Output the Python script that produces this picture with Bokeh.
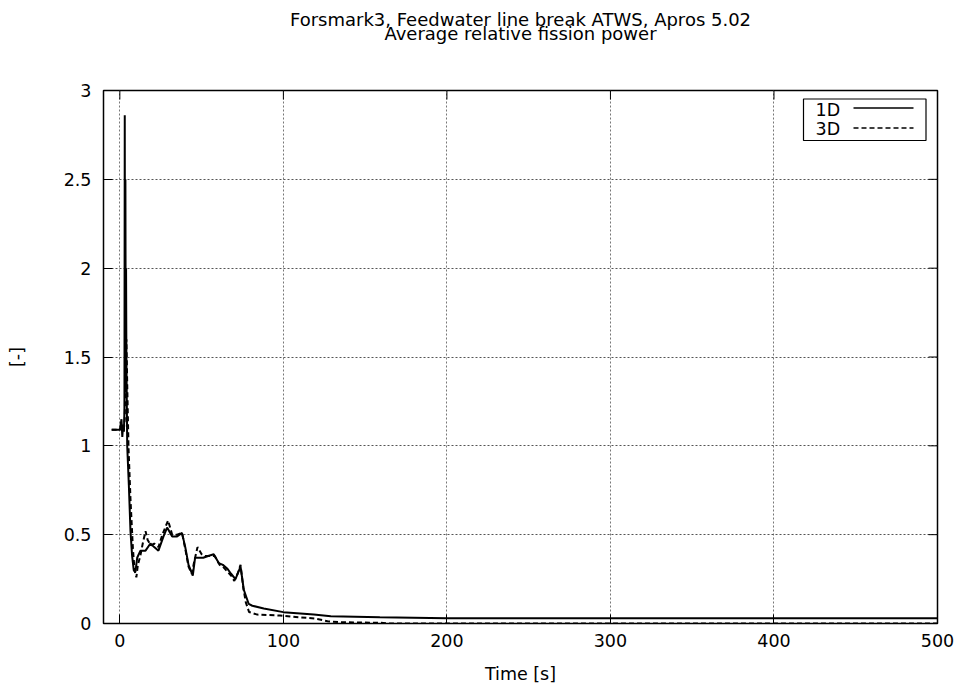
import math
from bokeh.plotting import figure
from bokeh.models import Range1d, Label, BoxAnnotation, PolyAnnotation, FixedTicker, Title
from bokeh.embed import file_html
from bokeh.resources import INLINE

# ---- data ----
t_1d = [-5, 0, 1, 1.5, 2, 2.5, 2.8, 3.0, 3.2, 3.4, 3.6, 3.8, 4.0, 4.5, 5.5, 6.5, 7.5, 8.5, 9.5,
        10.6, 12.6, 15.7, 18.7, 21, 23.6, 26.7, 28.9, 32, 35, 38, 40, 42, 44.6, 46, 48, 51, 54,
        57.4, 60.5, 63, 65.6, 68, 70.7, 72.5, 73.8, 75.8, 78.8, 81, 88, 100, 118.6, 129, 159,
        200, 300, 400, 500]
y_1d = [1.09, 1.09, 1.15, 1.05, 1.12, 1.08, 1.2, 2.86, 1.3, 2.5, 1.4, 2.0, 1.5, 1.0, 0.78,
        0.52, 0.38, 0.30, 0.29, 0.37, 0.41, 0.41, 0.45, 0.43, 0.41, 0.49, 0.54, 0.49, 0.49,
        0.51, 0.43, 0.33, 0.27, 0.37, 0.37, 0.37, 0.38, 0.39, 0.34, 0.33, 0.31, 0.28, 0.25,
        0.29, 0.32, 0.19, 0.11, 0.10, 0.084, 0.064, 0.05, 0.041, 0.035, 0.03, 0.03, 0.03, 0.03]

t_3d = [-5, 0, 1, 2, 2.5, 3.0, 3.5, 4.0, 4.5, 5.3, 6.5, 8, 9, 10.1, 11, 12.5, 14, 15.7, 17, 19,
        21, 23.6, 26, 29.5, 32, 35, 38, 40, 42, 44, 45.5, 47.5, 50, 52, 55, 58, 61, 63, 66, 68,
        70, 72, 73.8, 75.5, 77, 79, 84, 98, 110, 119, 127, 135, 159, 165, 500]
y_3d = [1.09, 1.09, 1.10, 1.08, 1.1, 1.15, 1.5, 1.6, 1.35, 0.99, 0.7, 0.42, 0.30, 0.26, 0.33,
        0.38, 0.45, 0.52, 0.47, 0.44, 0.45, 0.43, 0.50, 0.58, 0.50, 0.50, 0.51, 0.42, 0.32,
        0.28, 0.35, 0.43, 0.39, 0.38, 0.38, 0.38, 0.33, 0.32, 0.29, 0.27, 0.24, 0.28, 0.33,
        0.20, 0.12, 0.065, 0.05, 0.045, 0.035, 0.028, 0.013, 0.007, 0.004, 0.0, 0.0]

x_ticks = [0, 100, 200, 300, 400, 500]
y_ticks = [0, 0.5, 1, 1.5, 2, 2.5, 3]
y_tick_labels = {0: "0", 0.5: "0.5", 1: "1", 1.5: "1.5", 2: "2", 2.5: "2.5", 3: "3"}
series_names = ["1D", "3D"]
title_lines = ["Forsmark3, Feedwater line break ATWS, Apros 5.02", "Average relative fission power"]
x_label = "Time [s]"
y_label = "[-]"

FONT = "DejaVu Sans"
FS = "17.5px"
FRAME_W, FRAME_H = 834, 533

p = figure(frame_width=FRAME_W, frame_height=FRAME_H, output_backend="svg", toolbar_location=None,
           title=None, x_range=Range1d(-10, 500), y_range=Range1d(0, 3),
           min_border_left=103, min_border_right=17, min_border_top=90, min_border_bottom=69)
p.background_fill_color = "white"
p.border_fill_color = "white"
p.outline_line_color = "black"
p.outline_line_width = 1.5

# spacer + two title lines stacked above the frame (first added sits closest to the frame)
p.add_layout(Title(text=" ", text_font_size="1px", standoff=47), "above")
p.add_layout(Title(text=title_lines[1], align="center", text_font=FONT, text_font_size="18px",
                   text_font_style="normal", text_color="black", standoff=-7), "above")
p.add_layout(Title(text=title_lines[0], align="center", text_font=FONT, text_font_size="18px",
                   text_font_style="normal", text_color="black", standoff=-10), "above")

for ax in (p.xaxis[0], p.yaxis[0]):
    ax.major_tick_in = 9
    ax.major_tick_out = 0
    ax.minor_tick_in = 0
    ax.minor_tick_out = 0
    ax.axis_line_color = "black"
    ax.major_tick_line_color = "black"
    ax.major_label_text_font = FONT
    ax.major_label_text_font_size = FS
    ax.major_label_text_color = "black"
    ax.axis_label_text_font = FONT
    ax.axis_label_text_font_size = FS
    ax.axis_label_text_font_style = "normal"
    ax.axis_label_text_color = "black"

p.xaxis[0].ticker = FixedTicker(ticks=x_ticks)
p.yaxis[0].ticker = FixedTicker(ticks=y_ticks)
p.yaxis[0].major_label_overrides = y_tick_labels
p.xaxis[0].major_label_standoff = 10
p.yaxis[0].major_label_standoff = 12
p.xaxis[0].axis_label = x_label
p.xaxis[0].axis_label_standoff = 14
p.yaxis[0].axis_label = y_label
p.yaxis[0].axis_label_standoff = 34

p.xgrid[0].ticker = FixedTicker(ticks=x_ticks)
p.ygrid[0].ticker = FixedTicker(ticks=y_ticks)
p.xgrid.grid_line_color = "#777777"
p.ygrid.grid_line_color = "#555555"
p.grid.grid_line_dash = "2 2"
p.grid.grid_line_width = 1

# mirrored inward ticks on the top and right borders (half of each dash is clipped by the frame)
p.scatter([500] * len(y_ticks), y_ticks, marker="dash", size=18, line_color="black", line_width=1)
p.scatter(x_ticks, [3] * len(x_ticks), marker="dash", size=18, angle=math.pi / 2,
          line_color="black", line_width=1)

p.line(t_3d, y_3d, line_color="black", line_width=2, line_dash="5 3")
p.line(t_1d, y_1d, line_color="black", line_width=2)

# gnuplot-style key: label left, sample right (screen units from the frame's bottom-left)
p.add_layout(BoxAnnotation(left=700, right=822.5, top=524.5, bottom=483,
                           left_units="screen", right_units="screen",
                           top_units="screen", bottom_units="screen",
                           fill_alpha=0, line_color="black", line_alpha=1, line_width=1.2))
for name, dash, ty, ly in zip(series_names, ["solid", "5 3"], [514, 494.5], [515.5, 495.5]):
    p.add_layout(Label(x=712, y=ty, x_units="screen", y_units="screen", text=name,
                       text_align="left", text_baseline="middle",
                       text_font=FONT, text_font_size=FS, text_color="black"))
    p.add_layout(PolyAnnotation(xs=[750, 810], ys=[ly, ly], xs_units="screen", ys_units="screen",
                                fill_alpha=0, line_color="black", line_alpha=1,
                                line_width=1.5, line_dash=dash))

open("out.html", "w").write(file_html(p, INLINE))
